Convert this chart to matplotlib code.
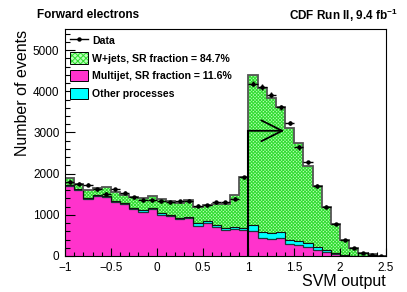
import numpy as np
import matplotlib
matplotlib.use("Agg")
import matplotlib.pyplot as plt
from matplotlib.lines import Line2D
from matplotlib.patches import Patch
from matplotlib.legend_handler import HandlerTuple

# ---------------- data ----------------
x_lo, x_hi, n_bins = -1.0, 2.5, 35
data = [1800, 1760, 1730, 1620, 1510, 1620, 1540, 1430, 1360, 1350,
        1330, 1300, 1330, 1340, 1220, 1235, 1305, 1305, 1385, 1910,
        4185, 4104, 3917, 3617, 3228, 2636, 2271, 1703, 1200, 771,
        381, 187, 65, 24, 8]
multijet = [1700, 1600, 1390, 1450, 1440, 1320, 1265, 1150, 1080, 1140,
            1005, 965, 892, 917, 740, 790, 700, 640, 660, 630,
            608, 446, 414, 446, 284, 268, 211, 146, 89, 41,
            8, 3, 1, 0, 0]
other = [25, 25, 25, 25, 25, 25, 25, 25, 30, 30,
         30, 30, 35, 35, 60, 60, 50, 45, 45, 45,
         146, 130, 137, 130, 105, 97, 97, 65, 57, 24,
         16, 5, 3, 1, 0]
wjets = [165, 130, 185, 180, 200, 205, 200, 255, 300, 280,
         345, 335, 363, 398, 400, 380, 515, 585, 775, 1255,
         3650, 3503, 3285, 3033, 2717, 2376, 1866, 1492, 1054, 706,
         365, 195, 77, 40, 10]
labels = ["Data", "W+jets, SR fraction = 84.7%",
          "Multijet, SR fraction = 11.6%", "Other processes"]
cut_value = 1.0
arrow_level = 3040
arrow_end = 1.39

# ---------------- style ----------------
plt.rcParams['font.family'] = ['Liberation Sans', 'DejaVu Sans']
plt.rcParams['mathtext.fontset'] = 'custom'
plt.rcParams['mathtext.rm'] = 'Liberation Sans'
plt.rcParams['mathtext.bf'] = 'Liberation Sans:bold'
plt.rcParams['hatch.linewidth'] = 0.7

c_green = '#b8ffb8'
c_hatch = '#2fdc2f'
c_mag = '#ff33cc'
c_cyan = '#00ffff'

edges = np.linspace(x_lo, x_hi, n_bins + 1)
centers = 0.5 * (edges[:-1] + edges[1:])
half_w = 0.5 * (edges[1] - edges[0])

mj = np.array(multijet, float)
ot = np.array(other, float)
wj = np.array(wjets, float)
dt = np.array(data, float)
lvl1 = mj
lvl2 = mj + ot
lvl3 = mj + ot + wj

fig = plt.figure(figsize=(4.07, 2.92), dpi=100)
ax = fig.add_axes([0.1597, 0.1233, 0.7887, 0.7757])

ax.stairs(lvl1, edges, baseline=0, fill=True, facecolor=c_mag, linewidth=0)
ax.stairs(lvl2, edges, baseline=lvl1, fill=True, facecolor=c_cyan, linewidth=0)
ax.stairs(lvl3, edges, baseline=lvl2, fill=True, facecolor=c_green,
          edgecolor=c_hatch, hatch='xxxxxxxxxx', linewidth=0)
ax.stairs(lvl1, edges, baseline=None, color='#1a3a3a', linewidth=0.9)
ax.stairs(lvl2, edges, baseline=None, color='#111111', linewidth=0.8)
ax.stairs(lvl3, edges, baseline=None, color='#555555', linewidth=1.3)

ax.errorbar(centers, dt, xerr=half_w, yerr=np.sqrt(dt), fmt='o', ms=2.2,
            color='black', ecolor='black', elinewidth=1.0, capsize=0, zorder=5)

ax.plot([cut_value, cut_value], [0, arrow_level], color='black', lw=1.5, zorder=6)
ax.annotate('', xy=(arrow_end, arrow_level), xytext=(cut_value, arrow_level),
            arrowprops=dict(arrowstyle='->,head_length=1.5,head_width=0.75',
                            color='black', lw=1.3, shrinkA=0, shrinkB=0),
            zorder=6)

ax.set_xlim(x_lo, x_hi)
ax.set_ylim(0, 5500)
ax.set_xticks(np.arange(-1, 2.51, 0.5))
ax.set_xticklabels(['\u22121', '\u22120.5', '0', '0.5', '1', '1.5', '2', '2.5'])
ax.set_xticks(np.arange(-1, 2.51, 0.1), minor=True)
ax.set_yticks(np.arange(0, 5001, 1000))
ax.set_yticks(np.arange(0, 5501, 200), minor=True)
ax.tick_params(axis='both', which='both', direction='in', labelsize=8.5,
               top=False, right=False)
ax.tick_params(axis='y', which='major', length=7, width=0.8, pad=4)
ax.tick_params(axis='y', which='minor', length=3.5, width=0.8)
ax.tick_params(axis='x', which='major', length=6, width=0.8, pad=4)
ax.tick_params(axis='x', which='minor', length=3, width=0.8)
for s in ax.spines.values():
    s.set_linewidth(0.8)

ax.set_xlabel('SVM output', fontsize=11.5, loc='right', labelpad=0)
ax.set_ylabel('Number of events', fontsize=11.5, loc='top', labelpad=2)

fig.text(37 / 407, 1 - 15 / 292, 'Forward electrons', fontsize=8.5,
         fontweight='bold', ha='left', va='center')
fig.text(398 / 407, 1 - 15 / 292, r'CDF Run II, 9.4 fb$^{\mathbf{-1}}$',
         fontsize=8.5, fontweight='bold', ha='right', va='center')

h_data = Line2D([], [], color='black', marker='o', ms=2.2, lw=1.0)
h_w = (Patch(facecolor=c_green, edgecolor=c_hatch, hatch='xxxxxx', lw=0),
       Patch(facecolor='none', edgecolor='black', lw=0.7))
h_mj = Patch(facecolor=c_mag, edgecolor='black', lw=0.7)
h_ot = Patch(facecolor=c_cyan, edgecolor='black', lw=0.7)
leg = ax.legend([h_data, h_w, h_mj, h_ot], labels, loc='upper left',
                frameon=False, prop={'size': 7.6, 'weight': 'bold'},
                handlelength=1.7, handleheight=1.25, handletextpad=0.4,
                labelspacing=0.62, borderaxespad=0.25, borderpad=0.25,
                handler_map={tuple: HandlerTuple(ndivide=1, pad=0)})

fig.savefig('out.png', dpi=100)
